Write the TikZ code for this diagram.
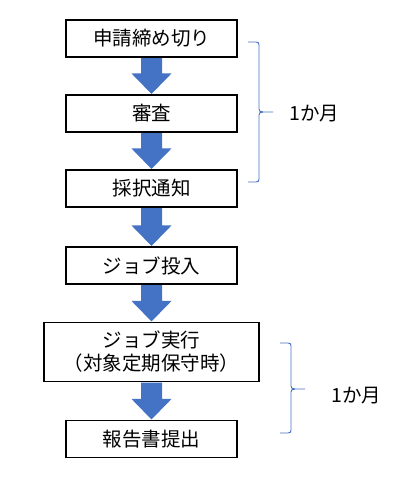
\documentclass[tikz,border=0pt]{standalone}
\usepackage{fontspec}
\setmainfont{Noto Sans CJK JP}
\usetikzlibrary{calc}
\definecolor{arrowblue}{HTML}{4472C4}
\begin{document}
\begin{tikzpicture}[x=1pt,y=-1pt,
  box/.style={draw=black,line width=1.1pt,fill=white,inner sep=0pt,minimum width=171pt,minimum height=37pt,font=\fontsize{19.5}{23}\selectfont,align=center},
  bigbox/.style={box,minimum width=215pt,minimum height=59pt},
  bracestyle/.style={draw=arrowblue,line width=0.9pt},
  lbl/.style={font=\fontsize{19.5}{23}\selectfont,inner sep=0pt}
]
\useasboundingbox (0,0) rectangle (402,482);
\node[box] (b1) at (151.5,38.5) {申請締め切り};
\node[box] (b2) at (151.5,113.5) {審査};
\node[box] (b3) at (151.5,188.5) {採択通知};
\node[box] (b4) at (151.5,265.5) {ジョブ投入};
\node[bigbox] (b5) at (151.5,352) {ジョブ実行\\（対象定期保守時）};
\node[box] (b6) at (151.5,439) {報告書提出};
\newcommand\blockarrow[2]{%
  \fill[arrowblue] ($(#1.south)+(-10.5,0.5)$) -- ($(#2.north)+(-10.5,-21)$) -- ($(#2.north)+(-20,-21)$) -- ($(#2.north)+(0,-0.5)$) -- ($(#2.north)+(20,-21)$) -- ($(#2.north)+(10.5,-21)$) -- ($(#1.south)+(10.5,0.5)$) -- cycle;}
\blockarrow{b1}{b2}
\blockarrow{b2}{b3}
\blockarrow{b3}{b4}
\blockarrow{b4}{b5}
\blockarrow{b5}{b6}
% braces
\coordinate (t1) at (248,42);
\coordinate (m1) at (273,112);
\coordinate (e1) at (248,182);
\draw[bracestyle] (t1) -- (256,42) .. controls (258.5,42) and (259,43) .. (259,45) -- (259,109) .. controls (259,111) and (260,112) .. (263,112) -- (m1);
\draw[bracestyle] (263,112) .. controls (260,112) and (259,113) .. (259,115) -- (259,179) .. controls (259,181) and (258.5,182) .. (256,182) -- (e1);
\node[lbl,anchor=west] (l1) at (289,114) {1か月};
\coordinate (t2) at (280,343);
\coordinate (m2) at (305,389);
\coordinate (e2) at (280,433);
\draw[bracestyle] (t2) -- (288,343) .. controls (290.5,343) and (291,344) .. (291,346) -- (291,386) .. controls (291,388) and (292,389) .. (295,389) -- (m2);
\draw[bracestyle] (295,389) .. controls (292,389) and (291,390) .. (291,392) -- (291,430) .. controls (291,432) and (290.5,433) .. (288,433) -- (e2);
\node[lbl,anchor=west] (l2) at (331,396) {1か月};
\end{tikzpicture}
\end{document}
